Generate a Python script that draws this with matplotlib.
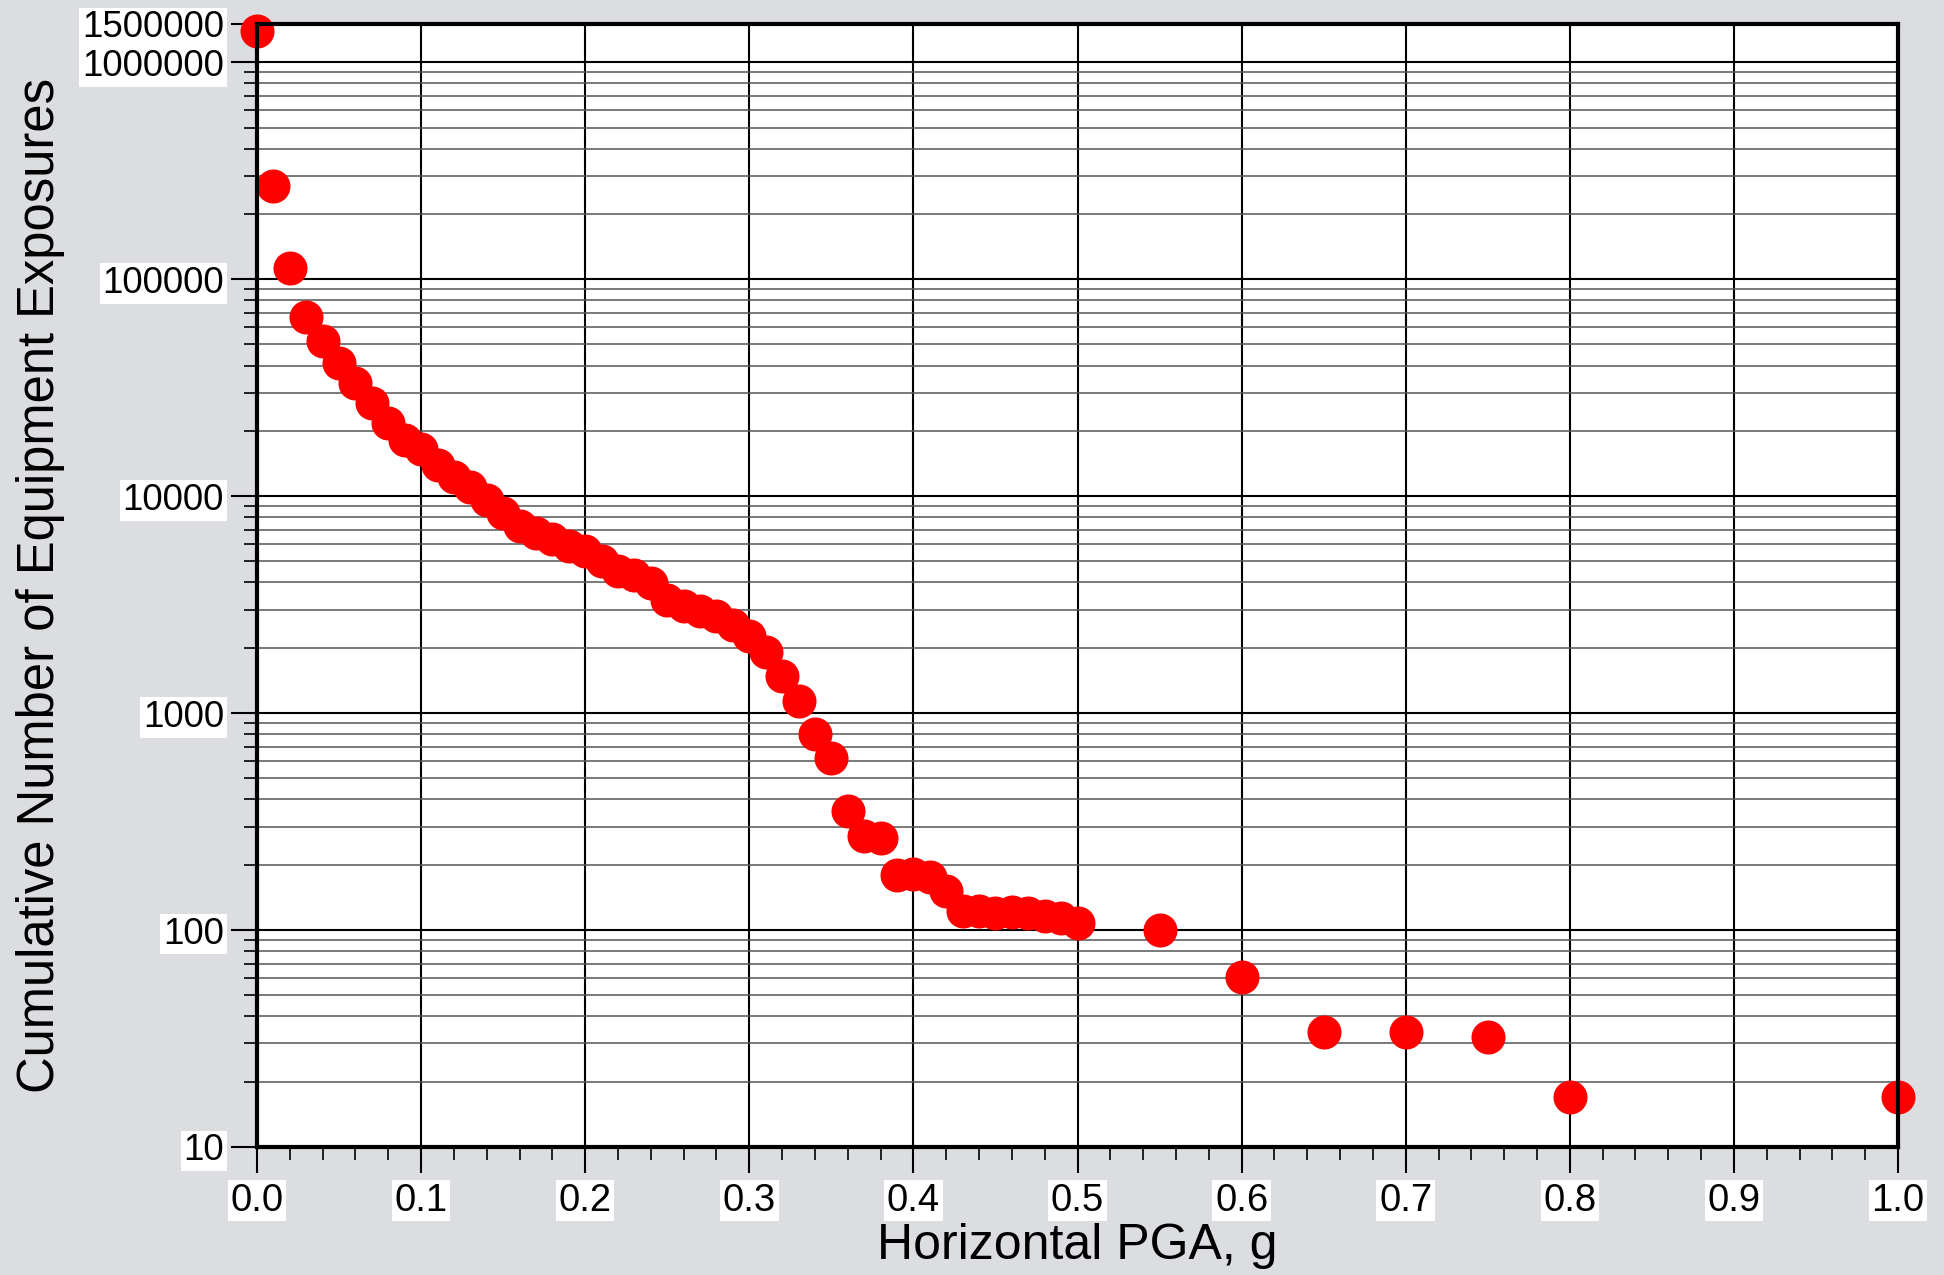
import matplotlib
matplotlib.use("Agg")
import matplotlib.pyplot as plt
from matplotlib.ticker import FixedLocator, LogLocator, NullFormatter, MultipleLocator

plt.rcParams['font.family'] = ['Liberation Sans', 'DejaVu Sans']

pga = [0.00, 0.01, 0.02, 0.03, 0.04, 0.05, 0.06, 0.07, 0.08, 0.09,
       0.10, 0.11, 0.12, 0.13, 0.14, 0.15, 0.16, 0.17, 0.18, 0.19,
       0.20, 0.21, 0.22, 0.23, 0.24, 0.25, 0.26, 0.27, 0.28, 0.29,
       0.30, 0.31, 0.32, 0.33, 0.34, 0.35, 0.36, 0.37, 0.38, 0.39,
       0.40, 0.41, 0.42, 0.43, 0.44, 0.45, 0.46, 0.47, 0.48, 0.49,
       0.50, 0.55, 0.60, 0.65, 0.70, 0.75, 0.80, 1.00]
exposures = [1390000, 270000, 112000, 67000, 52000, 41000, 33200, 27000, 21700, 18200,
             16500, 13900, 12300, 11000, 9600, 8350, 7300, 6750, 6330, 5860,
             5560, 5000, 4530, 4340, 3970, 3330, 3100, 2940, 2790, 2550,
             2260, 1920, 1475, 1140, 800, 620, 355, 270, 266, 180,
             182, 175, 151, 122, 122, 120, 121, 120, 116, 114,
             108, 100, 61, 34, 34, 32, 17, 17]

y_ticks = [10, 100, 1000, 10000, 100000, 1000000, 1500000]
y_tick_labels = ["10", "100", "1000", "10000", "100000", "1000000", "1500000"]
x_ticks = [0.0, 0.1, 0.2, 0.3, 0.4, 0.5, 0.6, 0.7, 0.8, 0.9, 1.0]
x_tick_labels = ["0.0", "0.1", "0.2", "0.3", "0.4", "0.5", "0.6", "0.7", "0.8", "0.9", "1.0"]

bg = '#dcdde0'
fig = plt.figure(figsize=(19.44, 12.75), dpi=100, facecolor=bg)
ax = fig.add_axes([257/1944, 1 - 1147/1275, (1898-257)/1944, (1147-24)/1275])
ax.set_facecolor('white')
ax.set_yscale('log')
ax.set_xlim(0, 1.0)
ax.set_ylim(10, 1500000)

ax.yaxis.set_major_locator(FixedLocator(y_ticks))
ax.yaxis.set_minor_locator(LogLocator(base=10, subs=range(2, 10), numticks=20))
ax.yaxis.set_minor_formatter(NullFormatter())
ax.set_yticklabels(y_tick_labels)
ax.set_xticks(x_ticks)
ax.set_xticklabels(x_tick_labels)
ax.xaxis.set_minor_locator(MultipleLocator(0.02))

ax.grid(True, which='major', axis='both', color='black', lw=1.5, zorder=0)
ax.grid(True, which='minor', axis='y', color='#555555', lw=1.1, zorder=0)
ax.set_axisbelow(True)

ax.plot(pga, exposures, 'o', color='#ff0000', markersize=24.5, markeredgewidth=0,
        zorder=3, clip_on=False)

for s in ax.spines.values():
    s.set_linewidth(3.0)
    s.set_color('black')
    s.set_zorder(4)

ax.tick_params(axis='both', which='major', direction='out', length=18.7, width=1.5,
               colors='black')
ax.tick_params(axis='y', which='major', labelsize=26.5, pad=5)
ax.tick_params(axis='x', which='major', labelsize=27.5, pad=7)
ax.tick_params(axis='both', which='minor', direction='out', length=9.4, width=1.2)

for lab in ax.get_yticklabels() + ax.get_xticklabels():
    lab.set_bbox(dict(facecolor='white', edgecolor='none', pad=2))

ax.set_xlabel("Horizontal PGA, g", fontsize=36, labelpad=3)
ax.set_ylabel("Cumulative Number of Equipment Exposures", fontsize=36.5, labelpad=12)

fig.savefig("out.png", dpi=100, facecolor=bg)
